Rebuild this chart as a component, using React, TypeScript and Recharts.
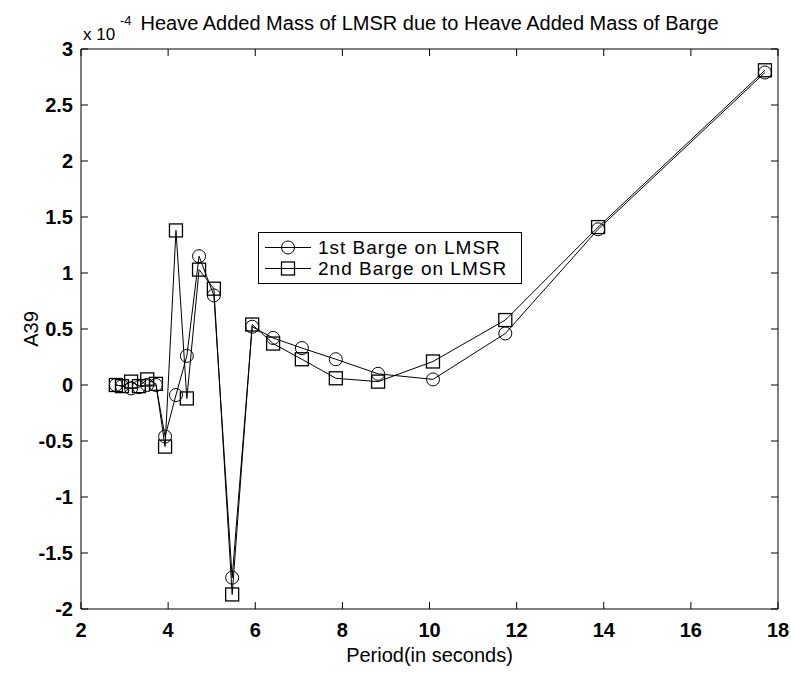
import React from 'react';
import { LineChart, Line, XAxis, YAxis, Legend, Label } from 'recharts';

// Wave period (s) and A39 heave added mass (x 1e-4) for each barge case
const periods = [2.8, 2.94, 3.15, 3.33, 3.52, 3.72, 3.93, 4.18, 4.43, 4.71, 5.05, 5.47, 5.93, 6.41, 7.07, 7.85, 8.82, 10.08, 11.74, 13.87, 17.7];
const firstBarge = [0.0, -0.01, -0.03, -0.02, 0.0, 0.0, -0.46, -0.09, 0.26, 1.15, 0.8, -1.72, 0.52, 0.42, 0.33, 0.23, 0.1, 0.05, 0.46, 1.39, 2.79];
const secondBarge = [0.0, -0.01, 0.03, -0.01, 0.05, 0.01, -0.55, 1.38, -0.12, 1.03, 0.86, -1.87, 0.54, 0.37, 0.23, 0.06, 0.03, 0.21, 0.58, 1.41, 2.81];

const periodTicks = [2, 4, 6, 8, 10, 12, 14, 16, 18];
const a39Ticks = [-2, -1.5, -1, -0.5, 0, 0.5, 1, 1.5, 2, 2.5, 3];

const seriesNames = ['1st Barge on LMSR', '2nd Barge on LMSR'];
const seriesMarkers = ['circle', 'square'];

const titleText = 'Heave Added Mass of LMSR due to Heave Added Mass of Barge';
const xLabelText = 'Period(in seconds)';
const yLabelText = 'A39';

const firstData = periods.map((p, i) => ({ period: p, a39: firstBarge[i] }));
const secondData = periods.map((p, i) => ({ period: p, a39: secondBarge[i] }));

const FONT = "'Liberation Sans', Arial, Helvetica, sans-serif";
const INK = '#000';

const Marker = ({ kind, cx, cy }: { kind: string; cx: number; cy: number }) =>
  kind === 'circle' ? (
    <circle cx={cx} cy={cy} r={6.5} fill="none" stroke={INK} strokeWidth={1} />
  ) : (
    <rect x={cx - 6.5} y={cy - 6.5} width={13} height={13} fill="none" stroke={INK} strokeWidth={1.3} />
  );

const makeDot = (kind: string) => (props: any) => {
  const { cx, cy, index } = props;
  if (cx == null || cy == null) return <g key={`d-${kind}-${index}`} />;
  return (
    <g key={`d-${kind}-${index}`}>
      <Marker kind={kind} cx={cx} cy={cy} />
    </g>
  );
};

const renderLegend = (props: any) => {
  const payload = props.payload || [];
  return (
    <div
      style={{
        width: 264,
        height: 52,
        boxSizing: 'border-box',
        border: `1px solid ${INK}`,
        background: '#fff',
        paddingTop: 4,
        fontFamily: FONT,
        fontSize: 19,
        letterSpacing: 1,
        color: INK,
      }}
    >
      {payload.map((entry: any, i: number) => {
        const idx = seriesNames.indexOf(entry.value);
        const kind = seriesMarkers[idx >= 0 ? idx : i];
        return (
          <div key={i} style={{ display: 'flex', alignItems: 'center', height: 21, lineHeight: '21px' }}>
            <svg width={59} height={21} style={{ display: 'block', flex: 'none' }}>
              <line x1={6} x2={52} y1={10.5} y2={10.5} stroke={INK} strokeWidth={1} />
              <Marker kind={kind} cx={29} cy={10.5} />
            </svg>
            <span style={{ whiteSpace: 'nowrap' }}>{entry.value}</span>
          </div>
        );
      })}
    </div>
  );
};

const TitleBlock = (props: any) => {
  const vb = props.viewBox || { x: 81, y: 48, width: 697, height: 1 };
  return (
    <g>
      <text x={vb.x + 2} y={vb.y - 8} fill={INK} fontFamily={FONT} fontSize={17}>
        x 10
      </text>
      <text x={vb.x + 39} y={vb.y - 23} fill={INK} fontFamily={FONT} fontSize={13}>
        -4
      </text>
      <text x={vb.x + vb.width / 2} y={vb.y - 18} fill={INK} fontFamily={FONT} fontSize={20} textAnchor="middle">
        {titleText}
      </text>
    </g>
  );
};

const XTitle = (props: any) => {
  const vb = props.viewBox || { x: 81, y: 609, width: 697, height: 30 };
  return (
    <text x={vb.x + vb.width / 2} y={vb.y + 53} fill={INK} fontFamily={FONT} fontSize={20} textAnchor="middle">
      {xLabelText}
    </text>
  );
};

const YTitle = (props: any) => {
  const vb = props.viewBox || { x: 21, y: 49, width: 60, height: 560 };
  const cx = vb.x + 10;
  const cy = vb.y + vb.height / 2;
  return (
    <text
      x={cx}
      y={cy}
      fill={INK}
      fontFamily={FONT}
      fontSize={20}
      textAnchor="middle"
      dominantBaseline="central"
      transform={`rotate(-90, ${cx}, ${cy})`}
    >
      {yLabelText}
    </text>
  );
};

const tickStyle = { fill: INK, fontSize: 20, fontFamily: FONT, fontWeight: 'bold' as const };
const blank = () => '';

export default function App() {
  return (
    <div style={{ position: 'absolute', left: 0, top: 0, width: 791, height: 673, background: '#fff' }}>
      <LineChart width={791} height={673} margin={{ top: 48, right: 12, bottom: 34, left: 21 }}>
        <XAxis
          xAxisId="bottom"
          dataKey="period"
          type="number"
          domain={[2, 18]}
          ticks={periodTicks}
          allowDataOverflow
          height={30}
          stroke={INK}
          tickSize={-7}
          tickMargin={21}
          tick={tickStyle}
          axisLine={{ stroke: INK, strokeWidth: 1 }}
          tickLine={{ stroke: INK }}
        >
          <Label content={<XTitle />} />
        </XAxis>
        <XAxis
          xAxisId="top"
          orientation="top"
          dataKey="period"
          type="number"
          domain={[2, 18]}
          ticks={periodTicks}
          allowDataOverflow
          height={1}
          stroke={INK}
          tickSize={-7}
          tickFormatter={blank}
          axisLine={{ stroke: INK, strokeWidth: 1 }}
          tickLine={{ stroke: INK }}
        >
          <Label content={<TitleBlock />} />
        </XAxis>
        <YAxis
          yAxisId="left"
          type="number"
          domain={[-2, 3]}
          ticks={a39Ticks}
          allowDataOverflow
          width={60}
          stroke={INK}
          tickSize={-7}
          tickMargin={15}
          tick={tickStyle}
          axisLine={{ stroke: INK, strokeWidth: 1 }}
          tickLine={{ stroke: INK }}
        >
          <Label content={<YTitle />} />
        </YAxis>
        <YAxis
          yAxisId="right"
          orientation="right"
          type="number"
          domain={[-2, 3]}
          ticks={a39Ticks}
          allowDataOverflow
          width={1}
          stroke={INK}
          tickSize={-7}
          tickFormatter={blank}
          axisLine={{ stroke: INK, strokeWidth: 1 }}
          tickLine={{ stroke: INK }}
        />
        <Legend
          layout="horizontal"
          verticalAlign="middle"
          align="center"
          content={renderLegend}
          wrapperStyle={{ left: 258, top: 232, width: 264, height: 52 }}
        />
        <Line
          xAxisId="bottom"
          yAxisId="left"
          data={firstData}
          dataKey="a39"
          name={seriesNames[0]}
          type="linear"
          stroke={INK}
          strokeWidth={1}
          dot={makeDot(seriesMarkers[0])}
          activeDot={false}
          isAnimationActive={false}
        />
        <Line
          xAxisId="bottom"
          yAxisId="left"
          data={secondData}
          dataKey="a39"
          name={seriesNames[1]}
          type="linear"
          stroke={INK}
          strokeWidth={1}
          dot={makeDot(seriesMarkers[1])}
          activeDot={false}
          isAnimationActive={false}
        />
      </LineChart>
    </div>
  );
}
